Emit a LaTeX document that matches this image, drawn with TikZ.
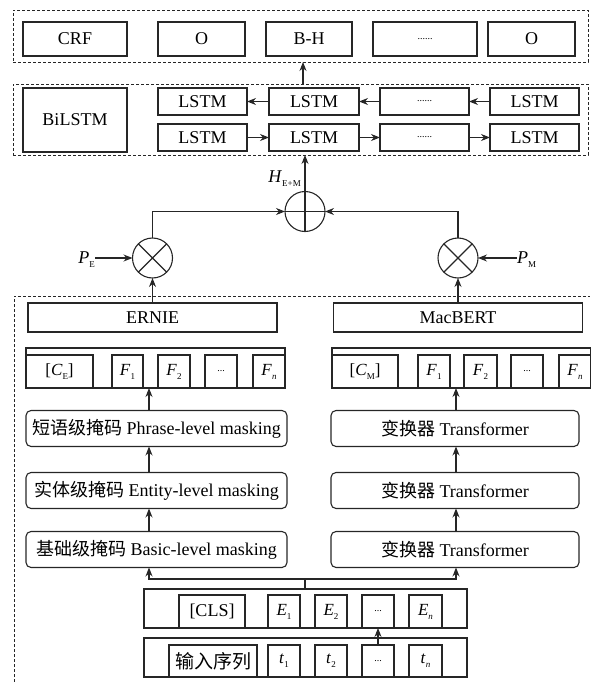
\documentclass[tikz,border=0pt]{standalone}
\usepackage{fontspec}
\setmainfont{Liberation Serif}
\newfontfamily\cjk{Noto Sans CJK SC}
\usetikzlibrary{arrows.meta}
\newcommand\lsub[1]{\raisebox{-0.5ex}{\fontsize{9}{9}\selectfont #1}}
\newcommand\tdots{{\fontsize{10}{10}\selectfont ......}}
\newcommand\sdots{{\fontsize{10}{10}\selectfont ...}}
\begin{document}
\begin{tikzpicture}[x=1pt,y=-1pt,
  box/.style={draw=black!85, line width=1.1pt, inner sep=0pt, outer sep=0pt, font=\fontsize{18}{20}\selectfont},
  fbox/.style={box, font=\fontsize{17}{19}\selectfont},
  rbox/.style={box, rounded corners=5pt},
  grp/.style={draw=black!85, dash pattern=on 3pt off 2pt, line width=0.9pt, inner sep=0pt, outer sep=0pt},
  arr/.style={-{Stealth[length=9pt,width=7pt]}, line width=1.1pt, draw=black!85},
  ln/.style={line width=1.1pt, draw=black!85},
  opc/.style={circle, draw=black!85, line width=1.1pt, minimum size=40pt, inner sep=0pt, outer sep=0pt},
  lab/.style={inner sep=0pt, font=\fontsize{18}{20}\selectfont}]
\useasboundingbox (0,0) rectangle (590,682);

% ---- CRF group
\node[grp, minimum width=575, minimum height=52] (crfgrp) at (300.5,36) {};
\node[box, minimum width=104, minimum height=34] (crf) at (75,39) {CRF};
\node[box, minimum width=87, minimum height=34] (o1) at (201.5,39) {O};
\node[box, minimum width=86, minimum height=34] (bh) at (309,39) {B-H};
\node[box, minimum width=104, minimum height=34] (d1) at (425,39) {\tdots};
\node[box, minimum width=87, minimum height=34] (o2) at (531.5,39) {O};

% ---- BiLSTM group
\node[grp, minimum width=575, minimum height=71] (bigrp) at (300.5,119.5) {};
\node[box, minimum width=104, minimum height=64] (bil) at (75,120) {BiLSTM};
\node[box, minimum width=89, minimum height=27] (a1) at (202.5,101.5) {LSTM};
\node[box, minimum width=90, minimum height=27] (a2) at (314,101.5) {LSTM};
\node[box, minimum width=89, minimum height=27] (a3) at (424.5,101.5) {\tdots};
\node[box, minimum width=89, minimum height=27] (a4) at (534.5,101.5) {LSTM};
\node[box, minimum width=89, minimum height=27] (b1) at (202.5,137.5) {LSTM};
\node[box, minimum width=90, minimum height=27] (b2) at (314,137.5) {LSTM};
\node[box, minimum width=89, minimum height=27] (b3) at (424.5,137.5) {\tdots};
\node[box, minimum width=89, minimum height=27] (b4) at (534.5,137.5) {LSTM};
\draw[arr] (a4.west) -- (a3.east);
\draw[arr] (a3.west) -- (a2.east);
\draw[arr] (a2.west) -- (a1.east);
\draw[arr] (b1.east) -- (b2.west);
\draw[arr] (b2.east) -- (b3.west);
\draw[arr] (b3.east) -- (b4.west);
\coordinate (upx) at (303,0);
\draw[arr] (bigrp.north -| upx) -- (crfgrp.south -| upx);

% ---- fusion
\node[opc] (plus) at (305,211.5) {};
\draw[ln] (plus.west) -- (plus.east);
\draw[arr] (plus.south) -- (bigrp.south -| plus);
\node[lab, anchor=south east] (hlab) at (301,187) {\textit{H}\lsub{E+M}};

\node[opc] (tl) at (152.5,258) {};
\draw[ln] (tl.north west) -- (tl.south east) (tl.north east) -- (tl.south west);
\node[opc] (tr) at (458,258) {};
\draw[ln] (tr.north west) -- (tr.south east) (tr.north east) -- (tr.south west);
\draw[arr] (tl.north) |- (plus.west);
\draw[arr] (tr.north) |- (plus.east);

\node[lab, anchor=east] (pe) at (95,260) {\textit{P}\lsub{E}};
\node[lab, anchor=west] (pm) at (517,260) {\textit{P}\lsub{M}};
\draw[arr] (pe.east |- tl.west) -- (tl.west);
\draw[arr] (pm.west |- tr.east) -- (tr.east);

% ---- encoder group
\draw[grp] (14,682) -- (14,296) -- (590,296);
\node[box, minimum width=249, minimum height=29] (ernie) at (152.5,317.5) {ERNIE};
\node[box, minimum width=249, minimum height=29] (macbert) at (458,317.5) {MacBERT};
\draw[arr] (ernie.north) -- (tl.south);
\draw[arr] (macbert.north) -- (tr.south);

% feature rows
\node[box, minimum width=259, minimum height=40] (fl) at (155.5,368) {};
\node[fbox, minimum width=67, minimum height=33] (ce) at (59.5,371.5) {[\textit{C}\lsub{E}]};
\node[fbox, minimum width=31, minimum height=33] (fl1) at (127.5,371.5) {\textit{F}\lsub{1}};
\node[fbox, minimum width=32, minimum height=33] (fl2) at (174,371.5) {\textit{F}\lsub{2}};
\node[fbox, minimum width=32, minimum height=33] (fl3) at (221,371.5) {\sdots};
\node[fbox, minimum width=32, minimum height=33] (fln) at (269,371.5) {\textit{F}\lsub{\textit{n}}};

\node[box, minimum width=259, minimum height=40] (fr) at (461.5,368) {};
\node[fbox, minimum width=66, minimum height=33] (cm) at (365,371.5) {[\textit{C}\lsub{M}]};
\node[fbox, minimum width=32, minimum height=33] (fr1) at (434,371.5) {\textit{F}\lsub{1}};
\node[fbox, minimum width=33, minimum height=33] (fr2) at (480.5,371.5) {\textit{F}\lsub{2}};
\node[fbox, minimum width=32, minimum height=33] (fr3) at (527,371.5) {\sdots};
\node[fbox, minimum width=32, minimum height=33] (frn) at (575,371.5) {\textit{F}\lsub{\textit{n}}};

% masking / transformer boxes
\node[rbox, minimum width=261, minimum height=36] (ph) at (156.5,428.5) {{\cjk 短语级掩码} Phrase-level masking};
\node[rbox, minimum width=261, minimum height=36] (en) at (156.5,490.5) {{\cjk 实体级掩码} Entity-level masking};
\node[rbox, minimum width=261, minimum height=36] (ba) at (156.5,549.5) {{\cjk 基础级掩码} Basic-level masking};
\node[rbox, minimum width=248, minimum height=36] (t3) at (455,428.5) {{\cjk 变换器} Transformer};
\node[rbox, minimum width=248, minimum height=36] (t2) at (455,490.5) {{\cjk 变换器} Transformer};
\node[rbox, minimum width=248, minimum height=36] (t1) at (455,549.5) {{\cjk 变换器} Transformer};

\coordinate (lx) at (149,0);
\coordinate (rx) at (456,0);
\draw[arr] (ph.north -| lx) -- (fl.south -| lx);
\draw[arr] (en.north -| lx) -- (ph.south -| lx);
\draw[arr] (ba.north -| lx) -- (en.south -| lx);
\draw[arr] (t3.north -| rx) -- (fr.south -| rx);
\draw[arr] (t2.north -| rx) -- (t3.south -| rx);
\draw[arr] (t1.north -| rx) -- (t2.south -| rx);

% embeddings
\node[box, minimum width=323, minimum height=39] (emb) at (305.5,608.5) {};
\node[box, minimum width=66, minimum height=33] (cls) at (212,611.5) {[CLS]};
\node[fbox, minimum width=32, minimum height=33] (e1) at (284,611.5) {\textit{E}\lsub{1}};
\node[fbox, minimum width=32, minimum height=33] (e2) at (331,611.5) {\textit{E}\lsub{2}};
\node[fbox, minimum width=32, minimum height=33] (e3) at (378,611.5) {\sdots};
\node[fbox, minimum width=33, minimum height=33] (en2) at (425.5,611.5) {\textit{E}\lsub{\textit{n}}};

\node[box, minimum width=323, minimum height=39] (inp) at (305.5,657.5) {};
\node[box, minimum width=88, minimum height=32] (seq) at (213,661) {\fontsize{19}{21}\selectfont\cjk 输入序列};
\node[fbox, minimum width=32, minimum height=32] (tt1) at (284,661) {\textit{t}\lsub{1}};
\node[fbox, minimum width=32, minimum height=32] (tt2) at (331,661) {\textit{t}\lsub{2}};
\node[fbox, minimum width=32, minimum height=32] (tt3) at (378,661) {\sdots};
\node[fbox, minimum width=33, minimum height=32] (ttn) at (425.5,661) {\textit{t}\lsub{\textit{n}}};
\draw[arr] (tt3.north) -- (emb.south -| tt3);

\coordinate (split) at (305,579);
\draw[ln] (emb.north -| split) -- (split);
\draw[arr] (split) -| (ba.south -| lx);
\draw[arr] (split) -| (t1.south -| rx);
\end{tikzpicture}
\end{document}
